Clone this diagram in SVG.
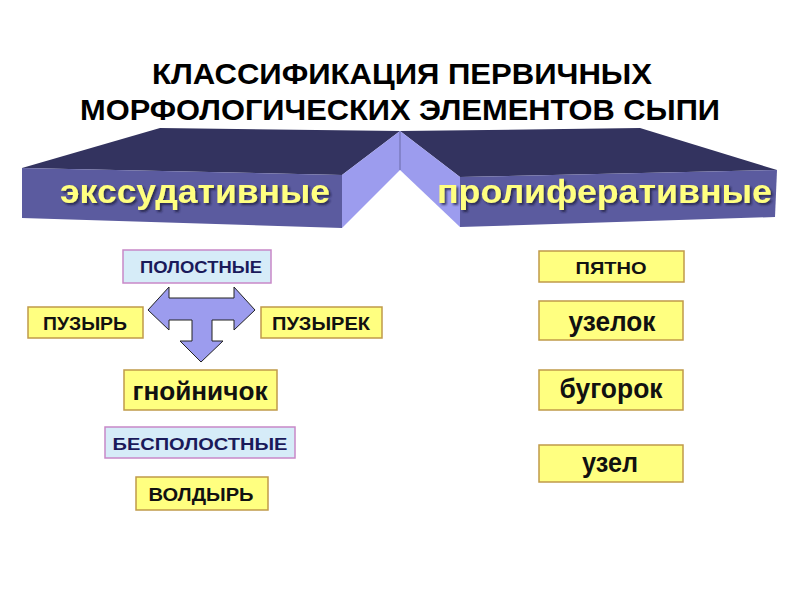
<svg xmlns="http://www.w3.org/2000/svg" width="800" height="600" viewBox="0 0 800 600">
<defs>
<filter id="shd" x="-5%" y="-20%" width="110%" height="150%">
<feDropShadow dx="2" dy="2" stdDeviation="0.8" flood-color="#1a1a3a" flood-opacity="0.75"/>
</filter>
<style>
.title{font-family:"Liberation Sans",Arial,sans-serif;font-weight:bold;font-size:30px;fill:#000;text-anchor:middle}
.band{font-family:"Liberation Sans",Arial,sans-serif;font-weight:bold;font-size:34px;fill:#ffff80;filter:url(#shd)}
.top{fill:#33335f}
.front{fill:#5b5b9f}
.side{fill:#9c9cee}
.yel{fill:#ffff80;stroke:#c09a4a;stroke-width:1.5}
.blu{fill:#d6ecf8;stroke:#c888c8;stroke-width:1.5}
.t{font-family:"Liberation Sans",Arial,sans-serif;font-weight:bold;fill:#111;text-anchor:middle}
.tb{font-family:"Liberation Sans",Arial,sans-serif;font-weight:bold;fill:#1a1a5a;text-anchor:middle}
</style>
</defs>
<rect width="800" height="600" fill="#fff"/>
<g id="title">
<text class="title" x="402" y="84" textLength="500" lengthAdjust="spacingAndGlyphs">КЛАССИФИКАЦИЯ ПЕРВИЧНЫХ</text>
<text class="title" x="400" y="120" textLength="640" lengthAdjust="spacingAndGlyphs">МОРФОЛОГИЧЕСКИХ ЭЛЕМЕНТОВ СЫПИ</text>
</g>
<g id="roof-left">
<polygon class="top" points="22,168 160,128 400,131 342,175"/>
<polygon class="front" points="22,168 342,175 342,228 22,218"/>
<polygon class="side" points="342,175 400,131 400,170 342,228"/>
<text class="band" x="60" y="203" textLength="270" lengthAdjust="spacingAndGlyphs">экссудативные</text>
</g>
<g id="roof-right">
<polygon class="top" points="400,131 640,128 777,170 460,177"/>
<polygon class="front" points="460,177 777,170 775,217 460,227"/>
<polygon class="side" points="400,131 460,177 460,227 400,170"/>
<line x1="400" y1="131" x2="400" y2="170" stroke="#6a6aa8" stroke-width="1"/>
<text class="band" x="437" y="203" textLength="335" lengthAdjust="spacingAndGlyphs">пролиферативные</text>
</g>
<g id="connectors">
<polygon points="148,310 169,287 169,298 234,298 234,287 255,310 234,330 234,320 212,320 212,341 223,341 201,362 180,341 192,341 192,320 169,320 169,330" fill="#9c9cee" stroke="#222" stroke-width="1"/>
</g>
<g id="polostnye">
<rect class="blu" x="123" y="250" width="148" height="33"/>
<text class="tb" x="201" y="273" font-size="17" textLength="122" lengthAdjust="spacingAndGlyphs">ПОЛОСТНЫЕ</text>
</g>
<g id="puzyr">
<rect class="yel" x="28" y="307" width="115" height="31"/>
<text class="t" x="85" y="330" font-size="18" textLength="84" lengthAdjust="spacingAndGlyphs">ПУЗЫРЬ</text>
</g>
<g id="puzyrek">
<rect class="yel" x="261" y="307" width="121" height="31"/>
<text class="t" x="321" y="330" font-size="18" textLength="98" lengthAdjust="spacingAndGlyphs">ПУЗЫРЕК</text>
</g>
<g id="gnoynichok">
<rect class="yel" x="124" y="370" width="153" height="40"/>
<text class="t" x="200" y="400" font-size="26" textLength="135" lengthAdjust="spacingAndGlyphs">гнойничок</text>
</g>
<g id="bespolostnye">
<rect class="blu" x="105" y="427" width="190" height="31"/>
<text class="tb" x="200" y="450" font-size="17" textLength="175" lengthAdjust="spacingAndGlyphs">БЕСПОЛОСТНЫЕ</text>
</g>
<g id="voldyr">
<rect class="yel" x="136" y="477" width="132" height="33"/>
<text class="t" x="201" y="501" font-size="18" textLength="105" lengthAdjust="spacingAndGlyphs">ВОЛДЫРЬ</text>
</g>
<g id="pyatno">
<rect class="yel" x="539" y="251" width="145" height="31"/>
<text class="t" x="611" y="274" font-size="17" textLength="71" lengthAdjust="spacingAndGlyphs">ПЯТНО</text>
</g>
<g id="uzelok">
<rect class="yel" x="539" y="301" width="144" height="39"/>
<text class="t" x="612" y="331" font-size="27" textLength="87" lengthAdjust="spacingAndGlyphs">узелок</text>
</g>
<g id="bugorok">
<rect class="yel" x="539" y="370" width="144" height="40"/>
<text class="t" x="611" y="398" font-size="27" textLength="103" lengthAdjust="spacingAndGlyphs">бугорок</text>
</g>
<g id="uzel">
<rect class="yel" x="539" y="445" width="144" height="37"/>
<text class="t" x="610" y="472" font-size="27" textLength="56" lengthAdjust="spacingAndGlyphs">узел</text>
</g>
</svg>
